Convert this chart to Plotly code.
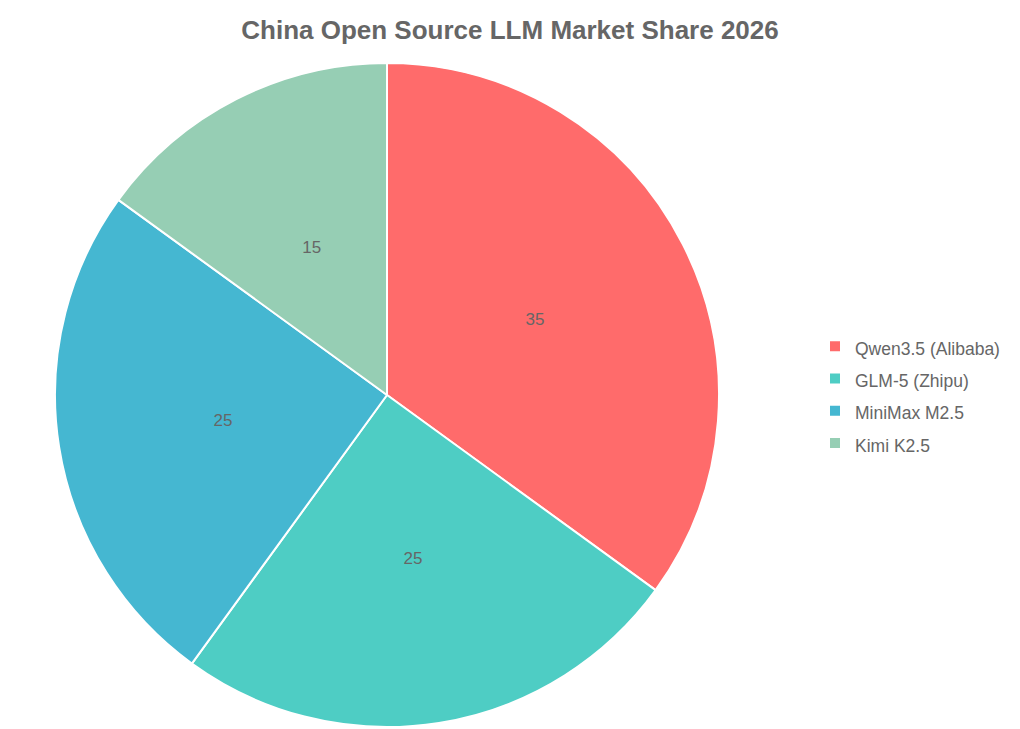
import plotly.graph_objects as go

labels = ["Qwen3.5 (Alibaba)", "GLM-5 (Zhipu)", "MiniMax M2.5", "Kimi K2.5"]
values = [35, 25, 25, 15]
colors = ["#FF6B6B", "#4ECDC4", "#45B7D1", "#96CEB4"]

FONT = "Liberation Sans, Arial, sans-serif"
W, H = 1020, 729
cx, cy, R = 379, 387, 332          # pie centre / radius in figure px
LABEL_R = 0.5 * R                  # labels sit at half the radius
HOLE = 0.4
R_TXT = LABEL_R / ((1 + HOLE) / 2)  # radius of the invisible label ring


def dom(r):
    return dict(
        x=[(cx - r) / W, (cx + r) / W],
        y=[(H - cy - r) / H, (H - cy + r) / H],
    )


legend_labels = ['<span style="font-size:17.5px">' + l + '</span>' for l in labels]

fig = go.Figure()

# main pie (slices + legend)
fig.add_trace(
    go.Pie(
        labels=legend_labels,
        values=values,
        sort=False,
        direction="clockwise",
        rotation=0,
        marker=dict(colors=colors, line=dict(color="#ffffff", width=2)),
        textinfo="none",
        hovertext=labels,
        hoverinfo="text+value+percent",
        domain=dom(R),
    )
)

# invisible ring that carries the value labels at half radius
fig.add_trace(
    go.Pie(
        labels=labels,
        values=values,
        sort=False,
        direction="clockwise",
        rotation=0,
        hole=HOLE,
        marker=dict(colors=["rgba(0,0,0,0)"] * len(values), line=dict(width=0)),
        textinfo="value",
        textposition="inside",
        insidetextorientation="horizontal",
        insidetextfont=dict(color="#666666", size=17, family=FONT),
        hoverinfo="skip",
        showlegend=False,
        domain=dom(R_TXT),
    )
)

fig.update_layout(
    width=W,
    height=H,
    margin=dict(l=0, r=0, t=0, b=0),
    paper_bgcolor="#ffffff",
    plot_bgcolor="#ffffff",
    font=dict(family=FONT, color="#666666"),
    title=dict(
        text="<b>China Open Source LLM Market Share 2026</b>",
        x=cx / W + (510 - 8 - cx) / W,
        xanchor="center",
        y=1 - 22 / H,
        yanchor="middle",
        font=dict(size=26, color="#666666", family=FONT),
    ),
    legend=dict(
        x=807 / W,
        xanchor="left",
        y=1 - 386.5 / H,
        yanchor="middle",
        font=dict(size=22.5, color="#666666", family=FONT),
        bgcolor="rgba(0,0,0,0)",
    ),
)

fig.write_html("out.html")
